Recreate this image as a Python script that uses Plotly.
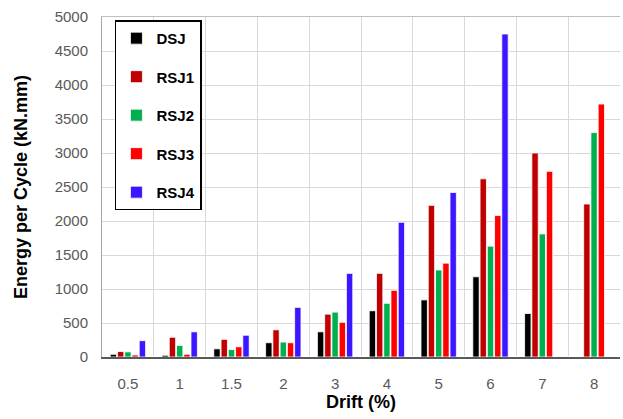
import plotly.graph_objects as go

drift = ["0.5", "1", "1.5", "2", "3", "4", "5", "6", "7", "8"]
dsj = [40, 25, 120, 210, 370, 680, 840, 1180, 640, None]
rsj1 = [80, 290, 260, 400, 630, 1230, 2230, 2620, 3000, 2250]
rsj2 = [75, 170, 110, 220, 660, 790, 1280, 1630, 1810, 3300]
rsj3 = [30, 40, 150, 210, 510, 980, 1380, 2080, 2730, 3720]
rsj4 = [240, 370, 320, 730, 1230, 1980, 2420, 4750, None, None]

series = [("DSJ", dsj, "#000000"), ("RSJ1", rsj1, "#C00000"), ("RSJ2", rsj2, "#00B050"),
          ("RSJ3", rsj3, "#FF0000"), ("RSJ4", rsj4, "#3A17FF")]

fig = go.Figure()
fig.add_trace(go.Scatter(x=[0, 10], y=[None, None], xaxis="x2", showlegend=False, hoverinfo="skip"))
for i, (name, vals, col) in enumerate(series):
    fig.add_trace(go.Bar(x=drift, y=vals, name=f"<b>{name}</b>", marker_color=col,
                         marker_line=dict(color="rgba(255,255,255,0.8)", width=1),
                         legendgroup=f"g{i}"))

fig.update_layout(
    width=623, height=419,
    margin=dict(l=102, r=3, t=17, b=62),
    paper_bgcolor="white", plot_bgcolor="white",
    barmode="group", bargap=0.3, bargroupgap=0.12,
    font=dict(family="Liberation Sans, Arial", color="#595959", size=15),
    legend=dict(x=0.025, y=0.99, xanchor="left", yanchor="top",
                bordercolor="#000000", borderwidth=1.5, bgcolor="white",
                font=dict(size=15, color="#000000", family="Liberation Sans, Arial"),
                tracegroupgap=16, itemwidth=30),
    xaxis=dict(type="category", showgrid=False, showline=True, linecolor="#595959", linewidth=1.5,
               ticks="outside", ticklen=12, tickcolor="rgba(0,0,0,0)",
               tickfont=dict(size=15, color="#595959"),
               title=dict(text="<b>Drift (%)</b>", font=dict(size=18, color="#000000"), standoff=5)),
    yaxis=dict(range=[0, 5000], dtick=500, showgrid=True, gridcolor="#D9D9D9", gridwidth=1,
               showline=True, linecolor="#A6A6A6", linewidth=1,
               ticks="outside", ticklen=10, tickcolor="rgba(0,0,0,0)",
               tickfont=dict(size=15, color="#595959"),
               title=dict(text="<b>Energy per Cycle (kN.mm)</b>", font=dict(size=18, color="#000000"), standoff=22)),
    xaxis2=dict(overlaying="x", range=[0, 10], dtick=1, showgrid=True, gridcolor="#D9D9D9",
                showticklabels=False, zeroline=False, side="top", showline=True,
                linecolor="#BFBFBF"),
)
fig.write_html("out.html")
